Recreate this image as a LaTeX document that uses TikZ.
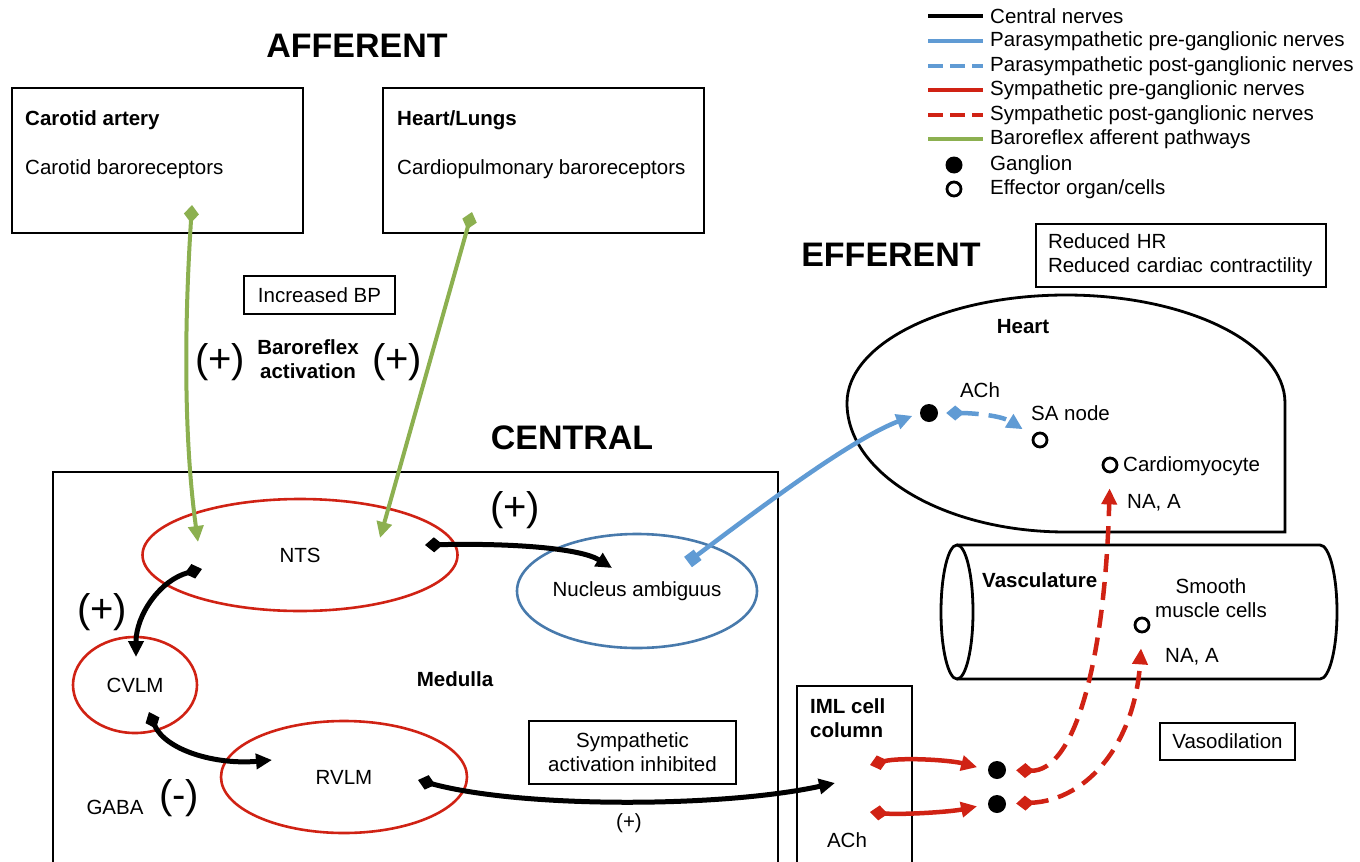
\documentclass[tikz,border=0pt]{standalone}
\usepackage{fontspec}
\setmainfont{Liberation Sans}
\usetikzlibrary{arrows.meta,shapes.geometric}
\definecolor{symred}{RGB}{208,34,20}
\definecolor{parablue}{RGB}{96,155,212}
\definecolor{nablue}{RGB}{72,122,172}
\definecolor{barogreen}{RGB}{140,176,80}
\tikzstyle{txt}=[inner sep=0pt,font=\fontsize{20.5}{24}\selectfont]
\tikzstyle{bold}=[txt,font=\fontsize{20.5}{24}\selectfont\bfseries]
\tikzstyle{title}=[inner sep=0pt,font=\fontsize{34}{40}\selectfont\bfseries]
\tikzstyle{sign}=[inner sep=0pt,font=\fontsize{40}{46}\selectfont]
\tikzstyle{region}=[draw,line width=2.8pt]
\tikzstyle{note}=[txt,draw,line width=1.2pt,align=center]
\tikzstyle{nucleus}=[txt,ellipse,draw=symred,line width=2.6pt]
\tikzstyle{ganglion}=[circle,fill=black,inner sep=0pt,minimum size=18pt]
\tikzstyle{effector}=[circle,draw=black,line width=2.8pt,inner sep=0pt,minimum size=14pt]
\tikzstyle{nerve}=[line width=4.5pt,{Diamond[length=18pt,width=15pt]}-{Triangle[length=16pt,width=15pt]}]
\tikzstyle{centralnerve}=[nerve,black,line width=5pt]
\tikzstyle{prepara}=[nerve,parablue,{Square[length=12pt,width=13pt]}-{Triangle[length=16pt,width=15pt]}]
\tikzstyle{postpara}=[nerve,parablue,dash pattern=on 18pt off 10pt]
\tikzstyle{presym}=[nerve,symred]
\tikzstyle{postsym}=[nerve,symred,dash pattern=on 18pt off 10pt]
\tikzstyle{baro}=[nerve,barogreen,line width=4pt]
\newcommand{\legendline}[3][black]{% Syntax: [line style]{y}{label}
  \draw[#1,line width=3.2pt] (928,#2) -- (983,#2);
  \node[txt,anchor=west] (leg#2) at (990,#2) {#3};
}
\begin{document}
\begin{tikzpicture}[x=1pt,y=-1pt]
\useasboundingbox (0,0) rectangle (1360,862);
% legend
\legendline{16}{Central nerves}
\legendline[parablue]{41}{Parasympathetic pre-ganglionic nerves}
\legendline[parablue,dash pattern=on 15pt off 7pt]{66}{Parasympathetic post-ganglionic nerves}
\legendline[symred]{90}{Sympathetic pre-ganglionic nerves}
\legendline[symred,dash pattern=on 15pt off 7pt]{115}{Sympathetic post-ganglionic nerves}
\legendline[barogreen]{139}{Baroreflex afferent pathways}
\node[ganglion,minimum size=17pt] (legG) at (954,165) {};
\node[txt,anchor=west] (legGt) at (990,165) {Ganglion};
\node[effector] (legE) at (954,189) {};
\node[txt,anchor=west] (legEt) at (990,189) {Effector organ/cells};

% afferent
\node[title] (aff) at (357,46) {AFFERENT};
\draw[region] (12,88) rectangle (303,233);
\node[bold,anchor=west] (carT) at (25,120) {Carotid artery};
\node[txt,anchor=west] (carB) at (25,169) {Carotid baroreceptors};
\draw[region] (383,88) rectangle (704,233);
\node[bold,anchor=west] (hlT) at (397,120) {Heart/Lungs};
\node[txt,anchor=west] (hlB) at (397,169) {Cardiopulmonary baroreceptors};
\node[note,minimum width=151pt,minimum height=38pt] (bp) at (319.5,295) {Increased BP};
\node[sign] (plA) at (220,362) {(+)};
\node[bold,align=center] (act) at (308,359) {Baroreflex\\activation};
\node[sign] (plB) at (397,362) {(+)};

% central
\node[title] (cen) at (572,438) {CENTRAL};
\draw[region] (53,880) -- (53,472) -- (778,472) -- (778,880);
\node[nucleus,minimum width=315pt,minimum height=112pt] (nts) at (300,555) {NTS};
\node[nucleus,minimum width=124pt,minimum height=96pt] (cvlm) at (135,685) {CVLM};
\node[nucleus,minimum width=246pt,minimum height=112pt] (rvlm) at (344,777) {RVLM};
\node[nucleus,draw=nablue,minimum width=240pt,minimum height=114pt] (na) at (637,591) {Nucleus ambiguus};
\node[bold] (med) at (455,679) {Medulla};
\node[sign] (plC) at (515,510) {(+)};
\node[sign] (plD) at (102,612) {(+)};
\node[txt] (gaba) at (115,807) {GABA};
\node[sign] (mi) at (179,798) {(-)};
\node[note,minimum width=207pt,minimum height=63pt] (inh) at (632.5,752.5) {Sympathetic\\activation inhibited};
\node[txt] (plE) at (629,823) {(+)};

% efferent
\node[title] (eff) at (891,255) {EFFERENT};
\node[note,align=left,text width=266pt,minimum width=290pt,minimum height=63pt] (red) at (1181,255.5) {Reduced HR\\Reduced cardiac contractility};
\draw[region] (1285,532) -- (1285,403) arc[start angle=0,end angle=-180,x radius=219,y radius=108]
  arc[start angle=180,end angle=90,x radius=219,y radius=129] -- cycle;
\node[bold] (heartT) at (1023,327) {Heart};
\node[txt] (achH) at (980,390) {ACh};
\node[ganglion] (gH) at (929,413) {};
\node[txt,anchor=west] (saT) at (1031,413) {SA node};
\node[effector] (sa) at (1040,440) {};
\node[effector] (cm) at (1110,465) {};
\node[txt,anchor=west] (cmT) at (1123,466) {Cardiomyocyte};
\node[txt,anchor=west] (naH) at (1127,503) {NA, A};
\draw[region] (957,545) -- (1320,545) arc[start angle=-90,end angle=90,x radius=17,y radius=67] -- (957,679);
\draw[region] (957,612) ellipse [x radius=16,y radius=67];
\node[bold,anchor=west] (vasT) at (982,580) {Vasculature};
\node[txt,align=center] (smT) at (1211,598) {Smooth\\muscle cells};
\node[effector] (sm) at (1142,625) {};
\node[txt,anchor=west] (naV) at (1165,657) {NA, A};
\node[note,minimum width=135pt,minimum height=37pt] (vaso) at (1227.5,741.5) {Vasodilation};
\draw[region] (797,880) -- (797,686) -- (912,686) -- (912,880);
\node[bold,anchor=west,align=left] (imlT) at (810,718) {IML cell\\column};
\node[txt] (achI) at (847,840) {ACh};
\node[ganglion] (g1) at (997,770) {};
\node[ganglion] (g2) at (997,804) {};

% nerve end points
\coordinate (carS) at (192,205);
\coordinate (hlS) at (472,212);
\coordinate (ntsA) at (198,542);
\coordinate (ntsB) at (380,538);
\coordinate (ntsC) at (425,545);
\coordinate (naIn) at (612,568);
\coordinate (ntsD) at (202,569);
\coordinate (cvIn) at (136,657);
\coordinate (cvOut) at (149,712);
\coordinate (rvIn) at (272,760);
\coordinate (rvOut) at (418,780);
\coordinate (imlIn) at (835,783);
\coordinate (naOut) at (688,562);
\coordinate (imlA) at (870,765);
\coordinate (imlB) at (870,812);

\draw[baro] (carS) .. controls (184,330) and (184,440) .. (ntsA);
\draw[baro] (hlS) -- (ntsB);
\draw[centralnerve] (ntsC) .. controls (510,543) and (580,548) .. (naIn);
\draw[centralnerve] (ntsD) .. controls (160,580) and (136,615) .. (cvIn);
\draw[centralnerve] (cvOut) .. controls (165,750) and (215,765) .. (rvIn);
\draw[centralnerve] (rvOut) .. controls (520,808) and (720,808) .. (imlIn);
\draw[prepara,shorten >=8pt] (naOut) .. controls (760,508) and (850,440) .. (gH.west);
\draw[postpara,shorten <=8pt,shorten >=12pt] (gH.east) .. controls (970,413) and (1000,415) .. (sa);
\draw[presym,shorten >=11pt] (imlA) .. controls (900,757) and (950,760) .. (g1.west);
\draw[presym,shorten >=11pt] (imlB) .. controls (900,815) and (950,812) .. (g2.west);
\draw[postsym,shorten <=10pt,shorten >=15pt] (g1.east) .. controls (1075,772) and (1105,660) .. (cm.south);
\draw[postsym,shorten <=10pt,shorten >=15pt] (g2.east) .. controls (1090,800) and (1135,740) .. (sm.south);
\end{tikzpicture}
\end{document}
